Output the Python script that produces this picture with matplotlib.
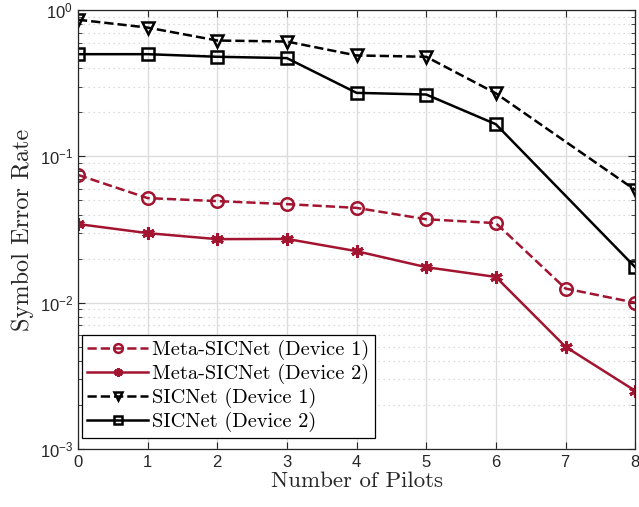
import numpy as np
import matplotlib.pyplot as plt
import matplotlib as mpl

mpl.rcParams['mathtext.fontset'] = 'custom'
mpl.rcParams['mathtext.rm'] = 'Liberation Sans'
mpl.rcParams['font.family'] = 'Liberation Sans'
mpl.rcParams['axes.formatter.use_mathtext'] = True

# Data
pilots = [0, 1, 2, 3, 4, 5, 6, 7, 8]
pilots_sic = [0, 1, 2, 3, 4, 5, 6, 8]

meta_dev1 = [0.0748, 0.0519, 0.0495, 0.0472, 0.0445, 0.0372, 0.035, 0.0125, 0.0100]
meta_dev2 = [0.0345, 0.0299, 0.0272, 0.0273, 0.0225, 0.0175, 0.0150, 0.0050, 0.0025]
sic_dev1 = [0.86, 0.76, 0.62, 0.61, 0.49, 0.48, 0.27, 0.059]
sic_dev2 = [0.50, 0.50, 0.48, 0.47, 0.272, 0.265, 0.166, 0.0175]

red = '#A2142F'
serif = 'cmr10'

fig = plt.figure(figsize=(6.39, 5.07), dpi=100)
ax = fig.add_axes([0.122, 0.1144, 0.872, 0.8656])

ax.semilogy(pilots, meta_dev1, '--o', color=red, lw=1.8, ms=9, mfc='none', mew=1.8,
            label='Meta-SICNet (Device 1)')
ax.semilogy(pilots, meta_dev2, '-', color=red, lw=1.8, marker=(6, 2, 0), ms=9, mew=2.2,
            label='Meta-SICNet (Device 2)')
ax.semilogy(pilots_sic, sic_dev1, '--v', color='black', lw=1.8, ms=9, mfc='none', mew=1.8,
            label='SICNet (Device 1)')
ax.semilogy(pilots_sic, sic_dev2, '-s', color='black', lw=1.8, ms=8, mfc='none', mew=1.8,
            label='SICNet (Device 2)')

ax.set_xlim(0, 8)
ax.set_ylim(1e-3, 1)
ax.set_xticks(pilots)

# grid: solid major, dotted minor (MATLAB style)
ax.grid(True, which='major', color='#dcdcdc', lw=1.0)
ax.grid(True, which='minor', axis='y', color='#d0d0d0', lw=0.9, ls=(0, (1, 3)))
ax.set_axisbelow(True)

ax.tick_params(which='both', direction='in', top=True, right=True, labelsize=12,
               colors='#262626', labelcolor='#262626')
ax.tick_params(which='major', length=5)
ax.tick_params(which='minor', length=3)
for s in ax.spines.values():
    s.set_color('#262626')
    s.set_linewidth(0.9)

ax.set_xlabel('Number of Pilots', fontsize=16.5, fontfamily=serif, color='#262626', labelpad=1)
ax.set_ylabel('Symbol Error Rate', fontsize=17.5, fontfamily=serif, color='#262626', labelpad=4)

leg = ax.legend(loc='lower left', bbox_to_anchor=(0.007, 0.026), fancybox=False,
                edgecolor='black', framealpha=1, handlelength=3.0, borderpad=0.25,
                labelspacing=0.2, handletextpad=0.2, borderaxespad=0, markerscale=0.7,
                prop={'family': serif, 'size': 14.7})
leg.get_frame().set_linewidth(0.9)

fig.savefig('out.png', dpi=100)
